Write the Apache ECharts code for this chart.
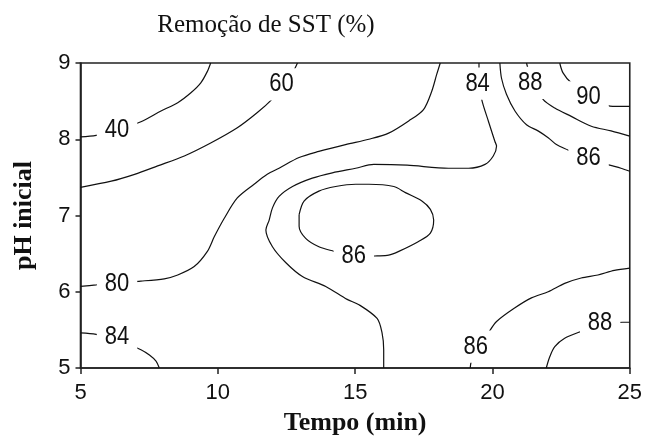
<!DOCTYPE html>
<html>
<head>
<meta charset="utf-8">
<script src="https://cdn.jsdelivr.net/npm/echarts@6/dist/echarts.min.js"></script>
<style>
  html, body { margin: 0; padding: 0; background: #fff; }
  #chart { width: 645px; height: 445px; }
</style>
</head>
<body>
<div id="chart"></div>
<script>
// Axis ranges and tick steps
const timeTicks = [5, 10, 15, 20, 25];
const phTicks = [5, 6, 7, 8, 9];

// Iso-lines of SST removal (%), as [tempo (min), pH inicial] pairs
const contour40 = [[5.0, 8.03], [5.57, 8.05], [6.32, 8.12], [7.20, 8.23], [7.93, 8.37], [8.54, 8.48], [9.02, 8.61], [9.38, 8.74], [9.62, 8.89], [9.74, 9.0]];
const contour60 = [[5.0, 7.37], [6.12, 7.45], [6.97, 7.54], [7.81, 7.65], [8.78, 7.78], [9.74, 7.95], [10.71, 8.15], [11.44, 8.35], [11.99, 8.53], [12.38, 8.70], [12.72, 8.87], [12.90, 9.0]];
const contour80 = [[5.0, 6.07], [5.57, 6.09], [6.32, 6.12], [7.20, 6.14], [8.05, 6.17], [8.54, 6.22], [9.14, 6.33], [9.62, 6.53], [9.87, 6.72], [10.23, 6.96], [10.71, 7.23], [11.32, 7.41], [11.80, 7.54], [12.23, 7.62], [12.96, 7.76], [13.68, 7.84], [14.65, 7.93], [15.50, 8.0], [16.22, 8.08], [16.95, 8.24], [17.49, 8.39], [17.79, 8.63], [17.97, 8.85], [18.10, 9.0]];
const contour84Main = [[19.51, 9.0], [19.51, 8.87], [19.56, 8.70], [19.61, 8.52], [19.85, 8.24], [20.09, 7.97], [20.15, 7.91], [20.03, 7.78], [19.73, 7.67], [19.13, 7.62], [18.40, 7.62], [16.89, 7.66], [15.68, 7.67], [15.02, 7.62], [14.17, 7.56], [13.44, 7.49], [12.72, 7.38], [12.23, 7.25], [11.99, 7.10], [11.87, 6.94], [11.75, 6.81], [11.99, 6.59], [12.48, 6.38], [13.08, 6.20], [13.93, 6.07], [14.71, 5.90], [15.14, 5.83], [15.80, 5.65], [15.98, 5.46], [16.04, 5.24], [16.04, 5.0]];
const contour84Corner = [[5.0, 5.46], [5.57, 5.44], [6.32, 5.37], [7.20, 5.24], [7.51, 5.17], [7.75, 5.09], [7.87, 5.0]];
const contour86Ring = [[12.96, 7.01], [13.14, 7.19], [13.68, 7.32], [14.29, 7.38], [15.02, 7.41], [15.50, 7.41], [16.41, 7.38], [16.83, 7.30], [17.43, 7.19], [17.74, 7.08], [17.86, 6.94], [17.74, 6.77], [17.31, 6.66], [16.59, 6.53], [16.22, 6.48], [15.80, 6.47], [14.95, 6.46], [14.23, 6.53], [13.68, 6.59], [13.20, 6.70], [12.96, 6.86], [12.96, 7.01]];
const contour86Upper = [[20.27, 9.0], [20.33, 8.80], [20.51, 8.59], [20.82, 8.37], [21.24, 8.19], [21.66, 8.11], [22.03, 8.02], [22.33, 7.93], [22.75, 7.86], [23.55, 7.73], [24.38, 7.65], [24.68, 7.62], [25.0, 7.58]];
const contour86Lower = [[19.19, 5.0], [19.25, 5.11], [19.56, 5.30], [19.85, 5.46], [20.15, 5.61], [20.82, 5.79], [21.42, 5.92], [22.03, 6.0], [22.63, 6.11], [23.23, 6.18], [23.84, 6.22], [24.44, 6.28], [25.0, 6.31]];
const contour88Upper = [[21.24, 9.0], [21.33, 8.89], [21.59, 8.70], [21.85, 8.52], [22.27, 8.41], [22.87, 8.30], [23.60, 8.17], [24.32, 8.11], [25.0, 8.04]];
const contour88Lower = [[21.96, 5.0], [22.09, 5.15], [22.27, 5.28], [22.63, 5.39], [23.23, 5.48], [23.95, 5.57], [24.75, 5.60], [25.0, 5.60]];
const contour90 = [[22.45, 9.0], [22.57, 8.87], [22.87, 8.74], [23.66, 8.55], [24.38, 8.43], [25.0, 8.43]];

// In-line level labels: [tempo, pH, level]
const contourLabels = [
  [6.33, 8.12, 40], [12.32, 8.72, 60], [6.33, 6.10, 80], [6.33, 5.40, 84],
  [19.46, 8.73, 84], [21.38, 8.74, 88], [23.50, 8.55, 90], [23.50, 7.75, 86],
  [14.95, 6.47, 86], [19.39, 5.28, 86], [23.92, 5.59, 88]
];

const isoLines = [contour40, contour60, contour80, contour84Main, contour84Corner,
  contour86Ring, contour86Upper, contour86Lower, contour88Upper, contour88Lower, contour90];

const numFont = '"Liberation Sans", Arial, sans-serif';
const nameFont = '"Liberation Serif", "Times New Roman", serif';

const lineSeries = isoLines.map(path => ({
  type: 'line',
  data: path,
  showSymbol: false,
  smooth: 0.3,
  silent: true,
  z: 3,
  lineStyle: { color: '#111', width: 1.2 }
}));

// Level labels sit on a white box that opens a gap in the line beneath
const labelSeries = {
  type: 'custom',
  coordinateSystem: 'cartesian2d',
  data: contourLabels,
  encode: { x: 0, y: 1 },
  z: 6,
  silent: true,
  renderItem: function (params, api) {
    const p = api.coord([api.value(0), api.value(1)]);
    return {
      type: 'text',
      x: p[0],
      y: p[1],
      scaleY: 1.15,
      style: {
        text: String(api.value(2)),
        font: '22px ' + numFont,
        fill: '#111',
        align: 'center',
        verticalAlign: 'middle',
        backgroundColor: '#fff',
        padding: [3, 8]
      }
    };
  }
};

const chart = echarts.init(document.getElementById('chart'), null, { renderer: 'canvas' });
chart.setOption({
  animation: false,
  backgroundColor: '#fff',
  title: {
    text: 'Remoção de SST (%)',
    left: 261,
    textAlign: 'center',
    top: 8,
    textStyle: { fontFamily: nameFont, fontWeight: 'normal', fontSize: 25, color: '#111' }
  },
  grid: {
    left: 80.5, right: 13, top: 63, bottom: 77,
    show: true, borderColor: '#222', borderWidth: 1.6, backgroundColor: 'transparent'
  },
  xAxis: {
    type: 'value',
    min: timeTicks[0], max: timeTicks[timeTicks.length - 1], interval: 5,
    name: 'Tempo (min)',
    nameLocation: 'middle',
    nameGap: 42,
    nameTextStyle: { fontFamily: nameFont, fontWeight: 'bold', fontSize: 26, color: '#111' },
    axisLine: { lineStyle: { color: '#222', width: 1.6 } },
    axisTick: { inside: false, length: 6, lineStyle: { color: '#222', width: 1.5 } },
    axisLabel: { fontFamily: numFont, fontSize: 22, color: '#111', margin: 14 },
    splitLine: { show: false }
  },
  yAxis: {
    type: 'value',
    min: phTicks[0], max: phTicks[phTicks.length - 1], interval: 1,
    name: 'pH inicial',
    nameLocation: 'middle',
    nameGap: 43,
    nameTextStyle: { fontFamily: nameFont, fontWeight: 'bold', fontSize: 26, color: '#111' },
    axisLine: { show: true, lineStyle: { color: '#222', width: 1.6 } },
    axisTick: { show: true, inside: false, length: 5, lineStyle: { color: '#222', width: 1.5 } },
    axisLabel: { fontFamily: numFont, fontSize: 22, color: '#111', margin: 10 },
    splitLine: { show: false }
  },
  series: lineSeries.concat([labelSeries])
});
</script>
</body>
</html>
